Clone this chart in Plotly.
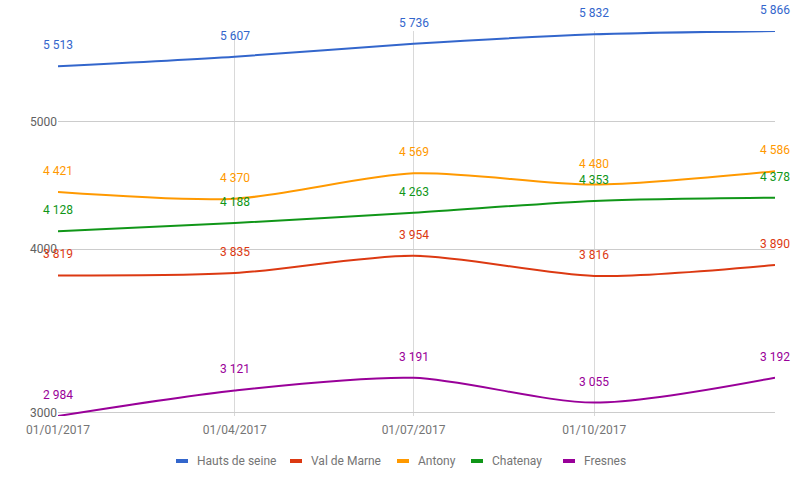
import plotly.graph_objects as go
import math

dates = ["2017-01-01", "2017-04-01", "2017-07-01", "2017-10-01", "2018-01-01"]
tick_labels = ["01/01/2017", "01/04/2017", "01/07/2017", "01/10/2017", ""]
series_names = ["Hauts de seine", "Val de Marne", "Antony", "Chatenay", "Fresnes"]
hauts_de_seine = [5513, 5607, 5736, 5832, 5866]
val_de_marne = [3819, 3835, 3954, 3816, 3890]
antony = [4421, 4370, 4569, 4480, 4586]
chatenay = [4128, 4188, 4263, 4353, 4378]
fresnes = [2984, 3121, 3191, 3055, 3192]
y_ticks = [3000, 4000, 5000]
colors = ["#3366cc", "#dc3912", "#ff9900", "#109618", "#990099"]

all_series = [hauts_de_seine, val_de_marne, antony, chatenay, fresnes]

# layout geometry (pixels)
W, H = 800, 493
ML, MR, MT, MB = 58, 25, 31, 77
PW, PH = W - ML - MR, H - MT - MB
legend_px_x = [176, 290, 397, 471, 563]
legend_px_y = 461

def fmt(v):
    return f"{v:,}".replace(",", " ")

fig = go.Figure()
annotations = []
shapes = []
for name, vals, col in zip(series_names, all_series, colors):
    fig.add_trace(go.Scatter(
        x=dates, y=vals, name=name, mode="lines",
        line=dict(color=col, width=2, shape="spline", smoothing=0.8),
        hoverinfo="skip", showlegend=False,
    ))
    for d, v in zip(dates, vals):
        annotations.append(dict(
            x=d, y=math.log10(v), xref="x", yref="y", text=fmt(v),
            showarrow=False, yanchor="middle", yshift=21,
            font=dict(family="Roboto", size=12, color=col),
        ))

# custom legend (Google-style short symbols)
ly = (ML + PH + MT - MT - legend_px_y + MT) / PH  # placeholder, recomputed below
ly = (MT + PH - legend_px_y) / PH
for name, col, px in zip(series_names, colors, legend_px_x):
    x0 = (px - ML) / PW
    x1 = (px + 12 - ML) / PW
    shapes.append(dict(type="line", xref="paper", yref="paper",
                       x0=x0, x1=x1, y0=ly, y1=ly,
                       line=dict(color=col, width=4)))
    annotations.append(dict(
        x=(px + 19 - ML) / PW, y=ly, xref="paper", yref="paper", text=name,
        showarrow=False, xanchor="left", yanchor="middle",
        font=dict(family="Roboto", size=12, color="#757575"),
    ))

all_vals = [v for s in all_series for v in s]
fig.update_layout(
    width=W, height=H,
    margin=dict(l=ML, r=MR, t=MT, b=MB),
    paper_bgcolor="white", plot_bgcolor="white",
    font=dict(family="Roboto", size=12, color="#757575"),
    annotations=annotations,
    shapes=shapes,
    showlegend=False,
    xaxis=dict(
        type="date", range=[dates[0], dates[-1]],
        tickvals=dates, ticktext=tick_labels,
        showgrid=True, gridcolor="#d9d9d9", gridwidth=1,
        showline=False, zeroline=False, ticks="",
        ticklabelstandoff=5,
        tickfont=dict(family="Roboto", size=12, color="#757575"),
    ),
    yaxis=dict(
        type="log",
        range=[math.log10(min(all_vals)), math.log10(max(all_vals))],
        tickvals=y_ticks, ticktext=[str(t) for t in y_ticks],
        showgrid=True, gridcolor="#cccccc", gridwidth=1,
        showline=False, zeroline=False, ticks="",
        tickfont=dict(family="Roboto", size=12, color="#616161"),
    ),
)

fig.write_html("out.html", config={"displayModeBar": False},
               post_script="document.body.style.margin='0';")
